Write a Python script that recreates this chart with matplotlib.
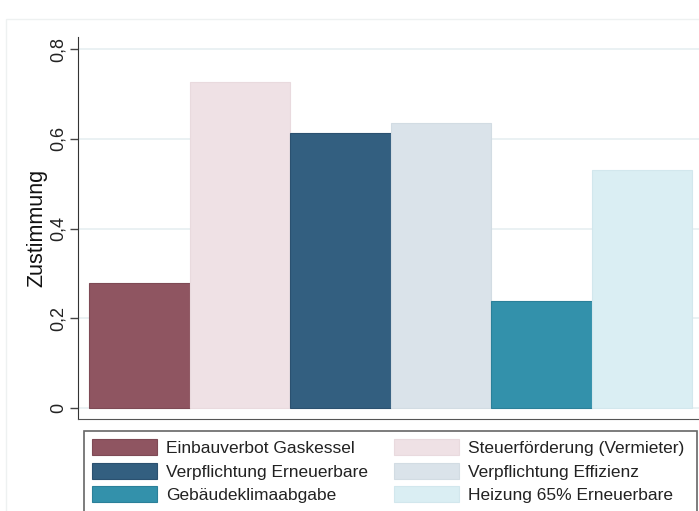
import numpy as np
import matplotlib.pyplot as plt
from matplotlib.patches import Rectangle, Patch

plt.rcParams['font.family'] = ['Liberation Sans', 'DejaVu Sans']

labels = ["Einbauverbot Gaskessel", "Steuerförderung (Vermieter)",
          "Verpflichtung Erneuerbare", "Verpflichtung Effizienz",
          "Gebäudeklimaabgabe", "Heizung 65% Erneuerbare"]
werte = [0.279, 0.726, 0.613, 0.635, 0.238, 0.530]
farben = ["#8F5561", "#EFE1E5", "#335F80", "#DAE3EA", "#3391AB", "#DAEEF3"]
kanten = ["#7E4A55", "#E9DADE", "#2B5170", "#D2DCE3", "#2B8099", "#D2E7ED"]
yticks = [0, 0.2, 0.4, 0.6, 0.8]
ytick_labels = ["0", "0,2", "0,4", "0,6", "0,8"]

W, H = 699, 511
fig = plt.figure(figsize=(W / 100, H / 100), dpi=100)

# faint outer panel frame
fig.patches.append(Rectangle((6 / W, -0.1), 1.2, (H - 19) / H + 0.1,
                             transform=fig.transFigure, fill=False,
                             edgecolor="#EEF1F1", linewidth=1))

ax = fig.add_axes([78 / W, (H - 419) / H, 642 / W, (419 - 37) / H])
x = np.arange(len(werte))
ax.bar(x, werte, width=1.0, color=farben, edgecolor=kanten, linewidth=0.8, zorder=3)

ax.set_xlim(-0.612, 5.776)
ax.set_ylim(-0.0245, 0.827)
ax.set_yticks(yticks)
ax.set_yticklabels(ytick_labels, rotation=90, va="center", fontsize=13, color="#222222")
ax.tick_params(axis="y", length=6, width=1, color="#444444", pad=2)
ax.set_xticks([])
ax.grid(axis="y", color="#E6EFF1", linewidth=1.2, zorder=0)

for s in ["top", "right"]:
    ax.spines[s].set_visible(False)
ax.spines["left"].set_color("#333333")
ax.spines["bottom"].set_color("#555555")

ax.set_ylabel("Zustimmung", fontsize=15.5, color="#111111")
ax.yaxis.set_label_coords(-31 / 642, 0.5)

# legend frame, cut off at bottom like the original
fig.patches.append(Rectangle((84 / W, -0.1), (697 - 84) / W, (H - 431) / H + 0.1,
                             transform=fig.transFigure, fill=False,
                             edgecolor="#666666", linewidth=1.2))

handles = [Patch(facecolor=f, edgecolor=k, linewidth=0.8) for f, k in zip(farben, kanten)]
order = [0, 2, 4, 1, 3, 5]
fig.legend([handles[i] for i in order], [labels[i] for i in order],
           ncol=2, loc="upper left", bbox_to_anchor=(92 / W, (H - 439) / H),
           frameon=False, fontsize=12.5, handlelength=3.74, handleheight=1.05,
           handletextpad=0.52, labelspacing=0.38, columnspacing=1.5,
           borderaxespad=0, borderpad=0, labelcolor="#222222")

fig.savefig("out.png", dpi=100)
